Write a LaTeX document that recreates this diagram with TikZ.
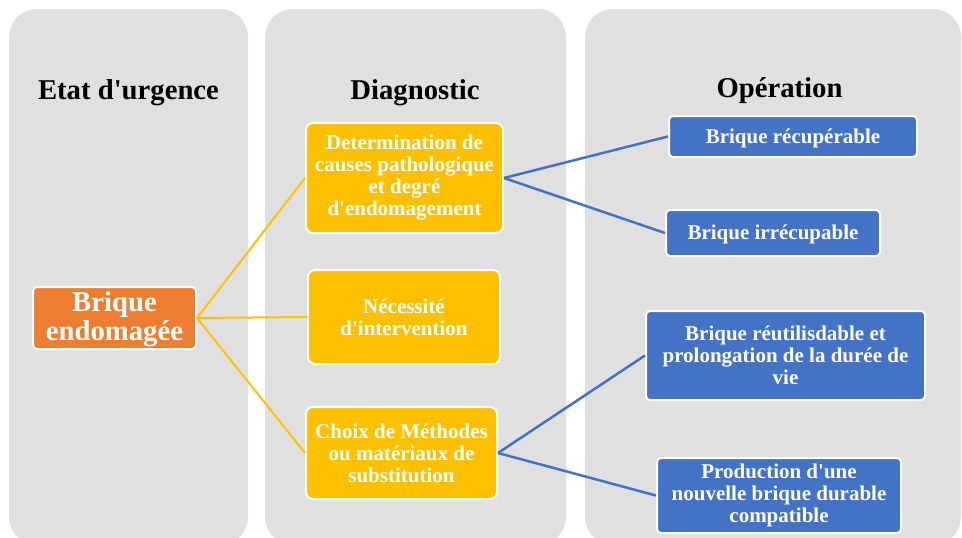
\documentclass[tikz,border=0pt]{standalone}
\usepackage{fontspec}
\setmainfont{Liberation Serif}[Ligatures=TeXOff]
\definecolor{panelgray}{HTML}{E0E0E0}
\definecolor{stepyellow}{HTML}{FFC000}
\definecolor{steporange}{HTML}{ED7D31}
\definecolor{stepblue}{HTML}{4472C4}
\begin{document}
\begin{tikzpicture}[x=1pt,y=-1pt,
  panel/.style={fill=panelgray, rounded corners=28pt},
  coltitle/.style={anchor=base, text=black, font=\fontsize{28.7}{30}\selectfont\bfseries},
  basebox/.style={draw=white, line width=2pt, text=white, align=center, inner sep=0pt},
  orangebox/.style={basebox, fill=steporange, rounded corners=4pt, font=\fontsize{28.7}{29}\selectfont\bfseries},
  yellowbox/.style={basebox, fill=stepyellow, rounded corners=7pt, font=\fontsize{21}{22}\selectfont\bfseries},
  bluebox/.style={basebox, fill=stepblue, rounded corners=4pt, font=\fontsize{21}{22}\selectfont\bfseries},
  ylink/.style={draw=stepyellow, line width=2pt},
  blink/.style={draw=stepblue, line width=2.5pt}]
\useasboundingbox (0,0) rectangle (962,538);
\fill[white] (0,0) rectangle (962,538);

% column backgrounds
\fill[panel] (9,9) rectangle (248,545);
\fill[panel] (265,9) rectangle (566,545);
\fill[panel] (585,9) rectangle (961,545);

% column titles
\node[coltitle] (t1) at (128.5,99) {Etat d'urgence};
\node[coltitle] (t2) at (415,99) {Diagnostic};
\node[coltitle] (t3) at (779.5,97) {Opération};

% starting state
\node[orangebox, minimum width=163pt, minimum height=62pt, text height=51pt, text depth=6pt] (o) at (114.5,318) {Brique\\endomagée};

% diagnostic steps
\node[yellowbox, minimum width=197pt, minimum height=110pt] (y1) at (404.5,178)
  {Determination de\\causes pathologique\\et degré\\d'endomagement};
\node[yellowbox, minimum width=192pt, minimum height=94pt] (y2) at (404,317)
  {Nécessité\\d'intervention};
\node[yellowbox, minimum width=191pt, minimum height=92pt] (y3) at (401.5,453)
  {Choix de Méthodes\\ou matériaux de\\substitution};

% operations
\node[bluebox, minimum width=248pt, minimum height=41pt, text height=18pt, text depth=5pt] (b1) at (793,136.5) {Brique récupérable};
\node[bluebox, minimum width=214pt, minimum height=46pt, text height=18pt, text depth=5pt] (b2) at (773,233) {Brique irrécupable};
\node[bluebox, minimum width=279pt, minimum height=89pt] (b3) at (785.5,355.5)
  {Brique réutilisdable et\\prolongation de la durée de\\vie};
\node[bluebox, minimum width=244pt, minimum height=75pt] (b4) at (779,495.5)
  {Production d'une\\nouvelle brique durable\\compatible};

% connectors
\draw[ylink] (o.east) -- (y1.west);
\draw[ylink] (o.east) -- (y2.west);
\draw[ylink] (o.east) -- (y3.west);
\draw[blink] (y1.east) -- (b1.west);
\draw[blink] (y1.east) -- (b2.west);
\draw[blink] (y3.east) -- (b3.west);
\draw[blink] (y3.east) -- (b4.west);
\end{tikzpicture}
\end{document}
